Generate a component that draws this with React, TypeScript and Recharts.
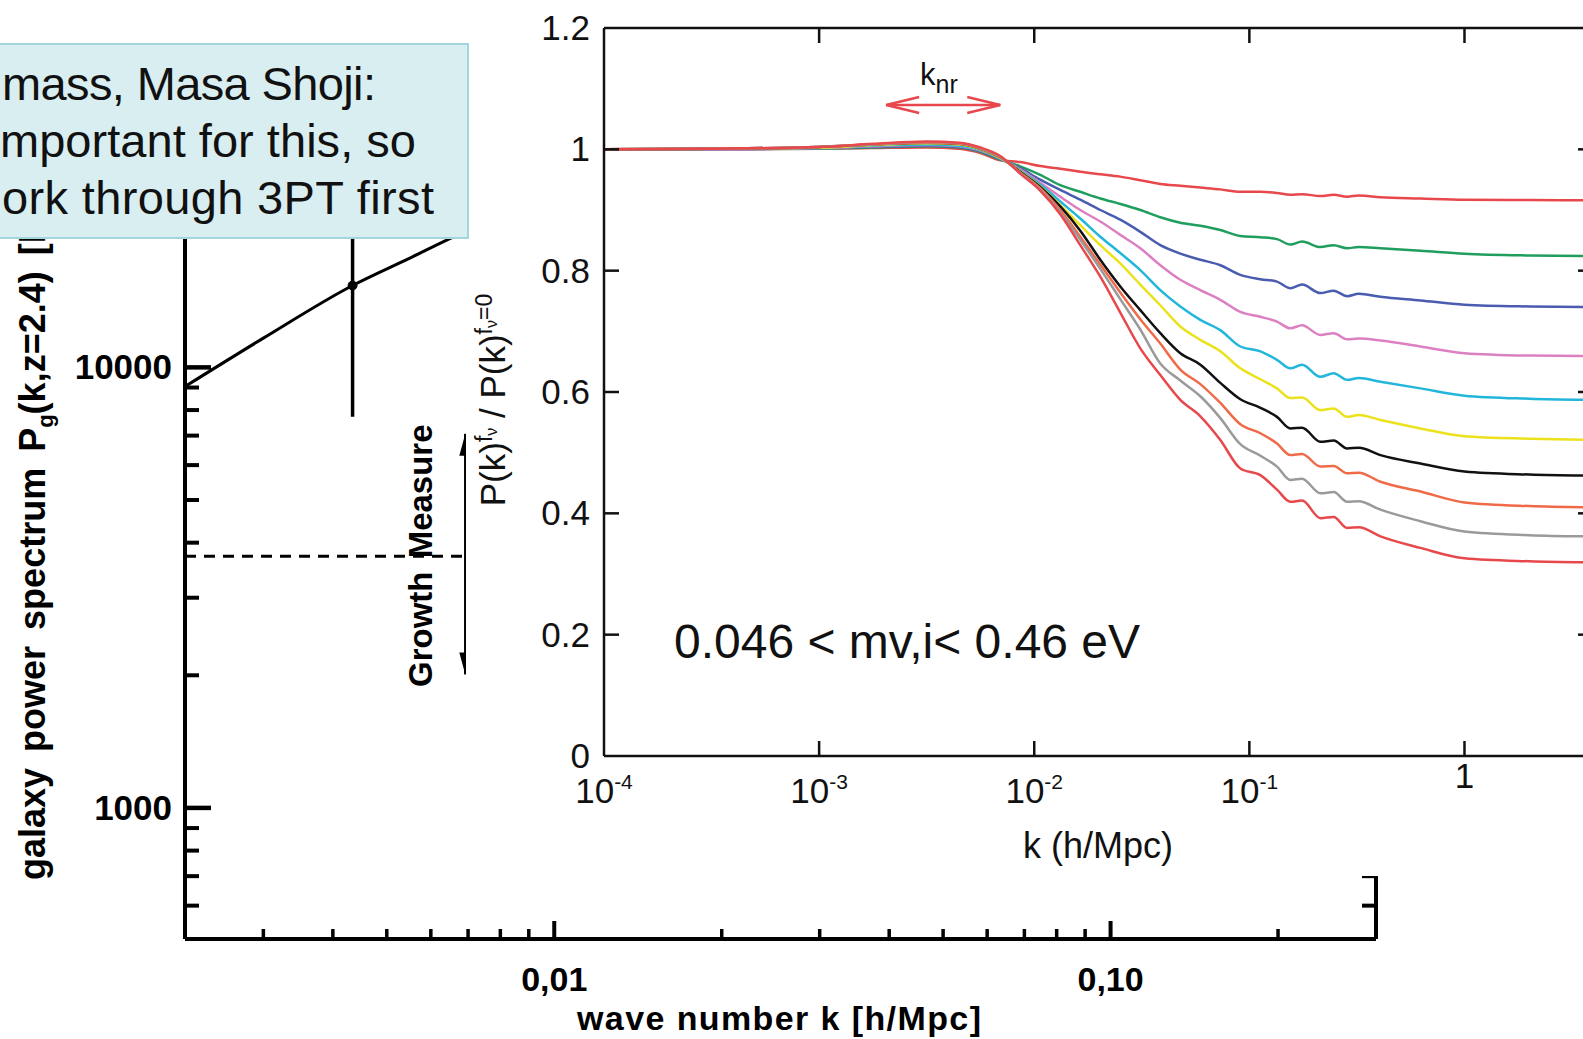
import React from 'react';
import { ComposedChart, Line, XAxis, YAxis } from 'recharts';

const FONT = "'Liberation Sans', Arial, Helvetica, sans-serif";

// ---------------- Main chart (P(k) ratio) data ----------------
const K_VALUES = [0.0001, 0.000316, 0.001, 0.00178, 0.00316, 0.00447, 0.00562, 0.00695, 0.0086, 0.01066, 0.01321, 0.01637, 0.02028, 0.02512, 0.03112, 0.03855, 0.04776, 0.05917, 0.0733, 0.0908, 0.1125, 0.1344, 0.1551, 0.1758, 0.2139, 0.2466, 0.2846, 0.3225, 0.4067, 0.624, 1.0, 2.0, 4.0];

const RATIO_M1 = [1.000, 1.000, 1.001, 1.002, 1.003, 1.001, 0.994, 0.982, 0.979, 0.9725, 0.968, 0.963, 0.959, 0.955, 0.949, 0.943, 0.940, 0.937, 0.934, 0.930, 0.930, 0.928, 0.925, 0.926, 0.923, 0.925, 0.922, 0.924, 0.921, 0.919, 0.917, 0.9165, 0.916];
const RATIO_M2 = [1.000, 1.000, 1.001, 1.003, 1.005, 1.003, 0.996, 0.983, 0.972, 0.958, 0.941, 0.930, 0.919, 0.910, 0.900, 0.888, 0.879, 0.874, 0.867, 0.857, 0.855, 0.852, 0.843, 0.848, 0.839, 0.842, 0.837, 0.839, 0.837, 0.833, 0.828, 0.825, 0.824];
const RATIO_M3 = [1.000, 1.000, 1.002, 1.004, 1.006, 1.004, 0.997, 0.984, 0.969, 0.950, 0.933, 0.917, 0.900, 0.884, 0.864, 0.842, 0.828, 0.818, 0.809, 0.793, 0.786, 0.782, 0.771, 0.777, 0.763, 0.767, 0.758, 0.762, 0.757, 0.751, 0.744, 0.741, 0.740];
const RATIO_M4 = [1.000, 1.000, 1.002, 1.005, 1.007, 1.005, 0.998, 0.985, 0.967, 0.945, 0.922, 0.900, 0.881, 0.859, 0.837, 0.809, 0.785, 0.768, 0.752, 0.732, 0.724, 0.716, 0.705, 0.710, 0.694, 0.697, 0.687, 0.688, 0.685, 0.675, 0.664, 0.660, 0.659];
const RATIO_M5 = [1.000, 1.001, 1.003, 1.006, 1.008, 1.006, 0.999, 0.985, 0.965, 0.942, 0.914, 0.886, 0.856, 0.829, 0.801, 0.768, 0.741, 0.719, 0.702, 0.675, 0.667, 0.653, 0.639, 0.645, 0.625, 0.631, 0.620, 0.623, 0.617, 0.606, 0.594, 0.589, 0.587];
const RATIO_M6 = [1.000, 1.001, 1.003, 1.007, 1.010, 1.008, 1.000, 0.986, 0.964, 0.939, 0.908, 0.875, 0.842, 0.812, 0.777, 0.743, 0.708, 0.686, 0.667, 0.639, 0.621, 0.606, 0.590, 0.591, 0.570, 0.573, 0.559, 0.562, 0.554, 0.540, 0.527, 0.523, 0.521];
const RATIO_M7 = [1.000, 1.001, 1.004, 1.008, 1.011, 1.009, 1.001, 0.987, 0.963, 0.938, 0.906, 0.866, 0.818, 0.774, 0.735, 0.697, 0.664, 0.645, 0.615, 0.588, 0.574, 0.559, 0.540, 0.541, 0.518, 0.520, 0.507, 0.508, 0.496, 0.482, 0.469, 0.464, 0.462];
const RATIO_M8 = [1.000, 1.001, 1.004, 1.008, 1.011, 1.009, 1.001, 0.987, 0.962, 0.936, 0.900, 0.856, 0.810, 0.764, 0.720, 0.680, 0.637, 0.613, 0.582, 0.547, 0.532, 0.515, 0.496, 0.498, 0.477, 0.478, 0.466, 0.467, 0.452, 0.436, 0.418, 0.412, 0.410];
const RATIO_M9 = [1.000, 1.001, 1.004, 1.008, 1.012, 1.010, 1.002, 0.988, 0.961, 0.934, 0.896, 0.851, 0.803, 0.753, 0.703, 0.647, 0.619, 0.593, 0.557, 0.514, 0.495, 0.477, 0.455, 0.457, 0.433, 0.435, 0.419, 0.420, 0.406, 0.387, 0.370, 0.364, 0.362];
const RATIO_M10 = [1.000, 1.001, 1.004, 1.009, 1.013, 1.011, 1.003, 0.989, 0.960, 0.932, 0.893, 0.842, 0.790, 0.731, 0.672, 0.628, 0.587, 0.560, 0.521, 0.474, 0.463, 0.439, 0.419, 0.421, 0.392, 0.394, 0.376, 0.377, 0.362, 0.343, 0.326, 0.321, 0.319];

const SERIES_KEYS = ['m1', 'm2', 'm3', 'm4', 'm5', 'm6', 'm7', 'm8', 'm9', 'm10'];
const SERIES_VALUES = [RATIO_M1, RATIO_M2, RATIO_M3, RATIO_M4, RATIO_M5, RATIO_M6, RATIO_M7, RATIO_M8, RATIO_M9, RATIO_M10];
const SERIES_COLORS = ['#e8484c', '#1f9e5e', '#4a5cb0', '#dc80c2', '#22b6da', '#ece21c', '#111111', '#f06a48', '#9a9a9a', '#e8484c'];

const MAIN_X_TICKS = [0.0001, 0.001, 0.01, 0.1, 1];
const MAIN_X_BASE = ['10', '10', '10', '10', '1'];
const MAIN_X_EXP = ['-4', '-3', '-2', '-1', ''];
const MAIN_Y_TICKS = [0, 0.2, 0.4, 0.6, 0.8, 1.0, 1.2];
const MAIN_Y_LABELS = ['0', '0.2', '0.4', '0.6', '0.8', '1', '1.2'];

const KNR_RANGE = [0.00205, 0.00695];
const KNR_LEVEL = 1.073;

// ---------------- Background chart (galaxy power spectrum) data ----------------
const BG_K = [0.002169, 0.003, 0.00434, 0.0055, 0.0069, 0.01, 0.02];
const BG_P = [9046, 11650, 15340, 17700, 20300, 24000, 30000];
const BG_ERR_K = 0.00434;
const BG_ERR_P = [7724, 15340, 32000];
const BG_DASH_K = [0.002169, 0.00692];
const BG_DASH_P = 3724;
const BG_GROWTH_K = 0.00692;
const BG_GROWTH_P = [7066, 2009];

const BG_X_MAJOR = [0.01, 0.1];
const BG_X_LABELS = ['0,01', '0,10'];
const BG_X_MINOR = [0.003, 0.004, 0.005, 0.006, 0.007, 0.008, 0.009, 0.02, 0.03, 0.04, 0.05, 0.06, 0.07, 0.08, 0.09, 0.2];
const BG_Y_MAJOR = [1000, 10000];
const BG_Y_LABELS = ['1000', '10000'];
const BG_Y_MINOR = [600, 700, 800, 900, 2000, 3000, 4000, 5000, 6000, 7000, 8000, 9000, 20000, 30000, 40000];

// ---------------- Tables ----------------
const mainRows = K_VALUES.map((k, i) => {
  const row: any = { k };
  SERIES_KEYS.forEach((key, s) => { row[key] = SERIES_VALUES[s][i]; });
  return row;
});
const knrRows = KNR_RANGE.map((k) => ({ k, v: KNR_LEVEL }));
const bgRows = BG_K.map((k, i) => ({ k, p: BG_P[i] }));
const bgErrRows = [{ k: BG_ERR_K, p: BG_ERR_P[0] }, { k: BG_ERR_K, p: BG_ERR_P[2] }];
const bgDotRows = [{ k: BG_ERR_K, p: BG_ERR_P[1] }];
const bgDashRows = BG_DASH_K.map((k) => ({ k, p: BG_DASH_P }));
const bgGrowthRows = BG_GROWTH_P.map((p) => ({ k: BG_GROWTH_K, p }));
const bgXTicks = [...BG_X_MINOR, ...BG_X_MAJOR].sort((a, b) => a - b);
const bgYTicks = [...BG_Y_MINOR, ...BG_Y_MAJOR].sort((a, b) => a - b);

// ---------------- Tick renderers ----------------
const MainBottomTick = (props: any) => {
  const { x, y, payload } = props;
  const i = MAIN_X_TICKS.indexOf(payload.value);
  const exp = MAIN_X_EXP[i];
  return (
    <g>
      {i > 0 && <line x1={x} y1={y} x2={x} y2={y - 15} stroke="#111" strokeWidth={2.5} />}
      {exp ? (
        <text x={x} y={y + 47} textAnchor="middle" fontSize={35} fill="#111">
          {MAIN_X_BASE[i]}
          <tspan dy={-14} fontSize={21}>{exp}</tspan>
        </text>
      ) : (
        <text x={x} y={y + 32} textAnchor="middle" fontSize={35} fill="#111">{MAIN_X_BASE[i]}</text>
      )}
    </g>
  );
};
const MainTopTick = (props: any) => {
  const { x, y, payload } = props;
  if (payload.value <= MAIN_X_TICKS[0]) return <g />;
  return <line x1={x} y1={y} x2={x} y2={y + 15} stroke="#111" strokeWidth={2.5} />;
};
const MainLeftTick = (props: any) => {
  const { x, y, payload } = props;
  const i = MAIN_Y_TICKS.indexOf(payload.value);
  return (
    <g>
      {i > 0 && i < MAIN_Y_TICKS.length - 1 && <line x1={x} y1={y} x2={x + 15} y2={y} stroke="#111" strokeWidth={2.5} />}
      <text x={x - 14} y={y + 12} textAnchor="end" fontSize={35} fill="#111">{MAIN_Y_LABELS[i]}</text>
    </g>
  );
};
const MainRightTick = (props: any) => {
  const { x, y, payload } = props;
  const i = MAIN_Y_TICKS.indexOf(payload.value);
  if (i <= 0 || i >= MAIN_Y_TICKS.length - 1) return <g />;
  return <line x1={x} y1={y} x2={x - 16} y2={y} stroke="#111" strokeWidth={2.5} />;
};

const BgXTick = (props: any) => {
  const { x, y, payload } = props;
  const mi = BG_X_MAJOR.indexOf(payload.value);
  if (mi >= 0) {
    return (
      <g>
        <line x1={x} y1={y} x2={x} y2={y - 18} stroke="#000" strokeWidth={4} />
        <text x={x} y={y + 52} textAnchor="middle" fontSize={34} fontWeight="bold" fill="#000">{BG_X_LABELS[mi]}</text>
      </g>
    );
  }
  return <line x1={x} y1={y} x2={x} y2={y - 10} stroke="#000" strokeWidth={3.5} />;
};
const BgYTick = (props: any) => {
  const { x, y, payload } = props;
  const mi = BG_Y_MAJOR.indexOf(payload.value);
  if (mi >= 0) {
    return (
      <g>
        <line x1={x} y1={y} x2={x + 26} y2={y} stroke="#000" strokeWidth={4.5} />
        <text x={x - 13} y={y + 12} textAnchor="end" fontSize={35} fontWeight="bold" fill="#000">{BG_Y_LABELS[mi]}</text>
      </g>
    );
  }
  return <line x1={x} y1={y} x2={x + 14} y2={y} stroke="#000" strokeWidth={4} />;
};
const BgRightTick = (props: any) => {
  const { x, y } = props;
  return <line x1={x} y1={y} x2={x - 14} y2={y} stroke="#000" strokeWidth={4} />;
};

const knrArrowHead = (props: any) => {
  const { cx, cy, index } = props;
  const d = index === 0 ? 1 : -1;
  return (
    <polyline key={`kh${index}`} points={`${cx + d * 33},${cy - 8} ${cx},${cy} ${cx + d * 33},${cy + 8}`} fill="none" stroke="#e8484c" strokeWidth={2.5} />
  );
};
const growthArrowHead = (props: any) => {
  const { cx, cy, index } = props;
  const d = index === 0 ? 1 : -1;
  return (
    <polygon key={`gh${index}`} points={`${cx},${cy} ${cx - 6},${cy + d * 22} ${cx + 6},${cy + d * 22}`} fill="#000" />
  );
};

export default function App() {
  return (
    <div style={{ position: 'absolute', left: 0, top: 0, width: 1583, height: 1039, overflow: 'hidden', background: '#fff', fontFamily: FONT }}>
      {/* Background chart */}
      <div style={{ position: 'absolute', left: 0, top: 0 }}>
        <ComposedChart width={1583} height={1039} data={bgRows} margin={{ top: 100, right: 206, bottom: 0, left: 0 }}>
          <XAxis dataKey="k" type="number" scale="log" domain={[0.002169, 0.3]} allowDataOverflow ticks={bgXTicks} interval={0}
            tickSize={0} tickMargin={0} tickLine={false} tick={BgXTick} height={100} axisLine={{ stroke: '#000', strokeWidth: 4 }} />
          <YAxis type="number" scale="log" domain={[504, 40450]} allowDataOverflow ticks={bgYTicks} interval={0}
            tickSize={0} tickMargin={0} tickLine={false} tick={BgYTick} width={185} axisLine={{ stroke: '#000', strokeWidth: 4 }} />
          <YAxis yAxisId="r" orientation="right" type="number" scale="log" domain={[504, 40450]} allowDataOverflow ticks={bgYTicks} interval={0}
            tickSize={0} tickMargin={0} tickLine={false} tick={BgRightTick} width={1} axisLine={{ stroke: '#000', strokeWidth: 4 }} />
          <Line dataKey="p" stroke="#000" strokeWidth={3} dot={false} isAnimationActive={false} type="monotone" />
          <Line data={bgErrRows} dataKey="p" stroke="#000" strokeWidth={3.5} dot={false} isAnimationActive={false} />
          <Line data={bgDotRows} dataKey="p" stroke="#000" dot={{ r: 4.5, fill: '#000', stroke: '#000' }} isAnimationActive={false} />
          <Line data={bgDashRows} dataKey="p" stroke="#000" strokeWidth={3} strokeDasharray="11 8" dot={false} isAnimationActive={false} />
          <Line data={bgGrowthRows} dataKey="p" stroke="#000" strokeWidth={2.5} dot={growthArrowHead} isAnimationActive={false} />
        </ComposedChart>
      </div>
      <svg width={1583} height={1039} style={{ position: 'absolute', left: 0, top: 0 }}>
        <text transform="translate(45,880) rotate(-90)" fontSize={36} fontWeight="bold" fill="#000" wordSpacing={6}>
          galaxy power spectrum P<tspan dy={8} fontSize={22}>g</tspan><tspan dy={-8}>(k,z=2.4) [Mpc</tspan>
          <tspan dy={-13} fontSize={22}>3</tspan><tspan dy={13}>/h</tspan><tspan dy={-13} fontSize={22}>3</tspan><tspan dy={13}>]</tspan>
        </text>
        <text transform="translate(432,687) rotate(-90)" fontSize={33} fontWeight="bold" fill="#000" wordSpacing={4}>Growth Measure</text>
        <text x={577} y={1030} textLength={404} fontSize={34} fontWeight="bold" fill="#000">wave number k [h/Mpc]</text>
      </svg>

      {/* Main chart */}
      <div style={{ position: 'absolute', left: 466, top: 0, width: 1141, height: 876, background: '#fff' }}>
        <ComposedChart width={1141} height={876} data={mainRows} margin={{ top: 0, right: 12, bottom: 0, left: 0 }}>
          <XAxis xAxisId="b" dataKey="k" type="number" scale="log" domain={[0.0001, 4]} allowDataOverflow ticks={MAIN_X_TICKS} interval={0}
            tickSize={0} tickMargin={0} tickLine={false} tick={MainBottomTick} height={120} axisLine={{ stroke: '#111', strokeWidth: 2.5 }} />
          <XAxis xAxisId="t" orientation="top" dataKey="k" type="number" scale="log" domain={[0.0001, 4]} allowDataOverflow ticks={MAIN_X_TICKS} interval={0}
            tickSize={0} tickMargin={0} tickLine={false} tick={MainTopTick} height={28} axisLine={{ stroke: '#111', strokeWidth: 2.5 }} />
          <YAxis yAxisId="l" type="number" domain={[0, 1.2]} allowDataOverflow ticks={MAIN_Y_TICKS} interval={0}
            tickSize={0} tickMargin={0} tickLine={false} tick={MainLeftTick} width={138} axisLine={{ stroke: '#111', strokeWidth: 2.5 }} />
          <YAxis yAxisId="r" orientation="right" type="number" domain={[0, 1.2]} allowDataOverflow ticks={MAIN_Y_TICKS} interval={0}
            tickSize={0} tickMargin={0} tickLine={false} tick={MainRightTick} width={1} axisLine={{ stroke: '#111', strokeWidth: 2.5 }} />
          {SERIES_KEYS.map((key, s) => (
            <Line key={key} xAxisId="b" yAxisId="l" dataKey={key} stroke={SERIES_COLORS[s]} strokeWidth={2.5}
              dot={false} isAnimationActive={false} type="monotone" />
          ))}
          <Line xAxisId="b" yAxisId="l" data={knrRows} dataKey="v" stroke="#e8484c" strokeWidth={2.5} dot={knrArrowHead} isAnimationActive={false} />
        </ComposedChart>
      </div>
      <svg width={1583} height={1039} style={{ position: 'absolute', left: 0, top: 0, pointerEvents: 'none' }}>
        <text transform="translate(505,400) rotate(-90)" textAnchor="middle" fontSize={35} fill="#111">
          P(k)<tspan dy={-13} fontSize={23}>f</tspan><tspan dy={5} fontSize={16}>ν</tspan><tspan dy={8} fontSize={35}> / P(k)</tspan>
          <tspan dy={-13} fontSize={23}>f</tspan><tspan dy={5} fontSize={16}>ν</tspan><tspan dy={-5} fontSize={23}>=0</tspan>
        </text>
        <text x={920} y={85} fontSize={31} fill="#111">k<tspan dy={8} fontSize={25}>nr</tspan></text>
        <text x={674} y={658} fontSize={48} fill="#111">{'0.046 < mv,i< 0.46 eV'}</text>
        <text x={1098} y={858} textAnchor="middle" fontSize={36} fill="#111">k (h/Mpc)</text>
      </svg>

      {/* Note box */}
      <div style={{ position: 'absolute', left: -20, top: 43, width: 485, height: 192, background: '#d9eef1', border: '2px solid #a3d5dc' }} />
      <svg width={1583} height={1039} style={{ position: 'absolute', left: 0, top: 0, pointerEvents: 'none' }}>
        <text x={2} y={100} fontSize={47} textLength={374} fill="#111">mass, Masa Shoji:</text>
        <text x={0} y={157} fontSize={47} textLength={416} fill="#111">mportant for this, so</text>
        <text x={2} y={214} fontSize={47} textLength={432} fill="#111">ork through 3PT first</text>
      </svg>
    </div>
  );
}
